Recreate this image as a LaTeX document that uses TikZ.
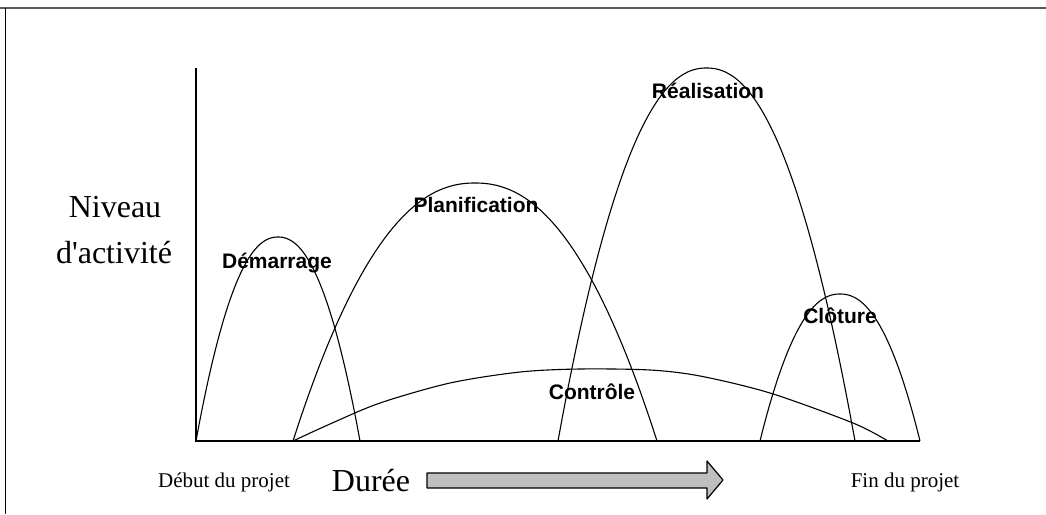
\documentclass[tikz,border=0pt]{standalone}
\usepackage{fontspec}
\setmainfont{Liberation Serif}
\newfontfamily\labfont{Liberation Sans}
\begin{document}
\begin{tikzpicture}[x=1pt,y=-1pt,
  curve/.style={line width=1.1pt, line join=round},
  axis/.style={line width=1.6pt},
  phase/.style={font=\labfont\bfseries\fontsize{21}{24}\selectfont, anchor=base, inner sep=0pt},
  axlab/.style={font=\fontsize{32}{36}\selectfont, anchor=base, inner sep=0pt},
  endlab/.style={font=\fontsize{21}{24}\selectfont, anchor=base, inner sep=0pt}]
\useasboundingbox (0,0) rectangle (1046,514);
% frame
\draw[line width=2pt, gray!70!black] (0,8) -- (1046,8);
\draw[line width=1pt] (5,8) -- (5,514);
% axes
\coordinate (top) at (196,68);
\coordinate (orig) at (196,441);
\coordinate (xend) at (920,441);
\draw[axis] (top) -- (orig) -- (xend);
% curves
\draw[curve] plot[domain=-1:1, samples=60, smooth] ({278+82*\x},{441-204*(1-abs(\x)^2.2)});
\draw[curve] plot[domain=-1:1, samples=60, smooth] ({475+182*\x},{441-258*(1-abs(\x)^2.2)});
\draw[curve] plot[domain=-1:1, samples=60, smooth] ({706.5+148.5*\x},{441-373*(1-abs(\x)^2.2)});
\draw[curve] plot[domain=-1:1, samples=60, smooth] ({840+80*\x},{441-147*(1-abs(\x)^2.2)});
\draw[curve] plot[smooth, tension=0.5] coordinates {(293,441) (330,424) (380,403) (450,383) (520,372) (580,369) (650,370) (700,376) (770,393) (853,423) (888,441)};
% phase labels
\node[phase] (dem) at (277,268) {Démarrage};
\node[phase] (pla) at (476,212) {Planification};
\node[phase] (rea) at (708,98) {Réalisation};
\node[phase] (clo) at (840,323) {Clôture};
\node[phase] (con) at (592,399) {Contrôle};
% axis labels
\node[axlab] (niv) at (115,217) {Niveau};
\node[axlab] (act) at (114,263) {d\textquotesingle activité};
\node[axlab] (dur) at (371,491) {Durée};
\node[endlab] (deb) at (224,487) {Début du projet};
\node[endlab] (fin) at (905,487) {Fin du projet};
% block arrow
\draw[line width=1.2pt, fill=gray!50, line join=round] (427,473) -- (707,473) -- (707,461) -- (723,480) -- (707,499) -- (707,488) -- (427,488) -- cycle;
\end{tikzpicture}
\end{document}
